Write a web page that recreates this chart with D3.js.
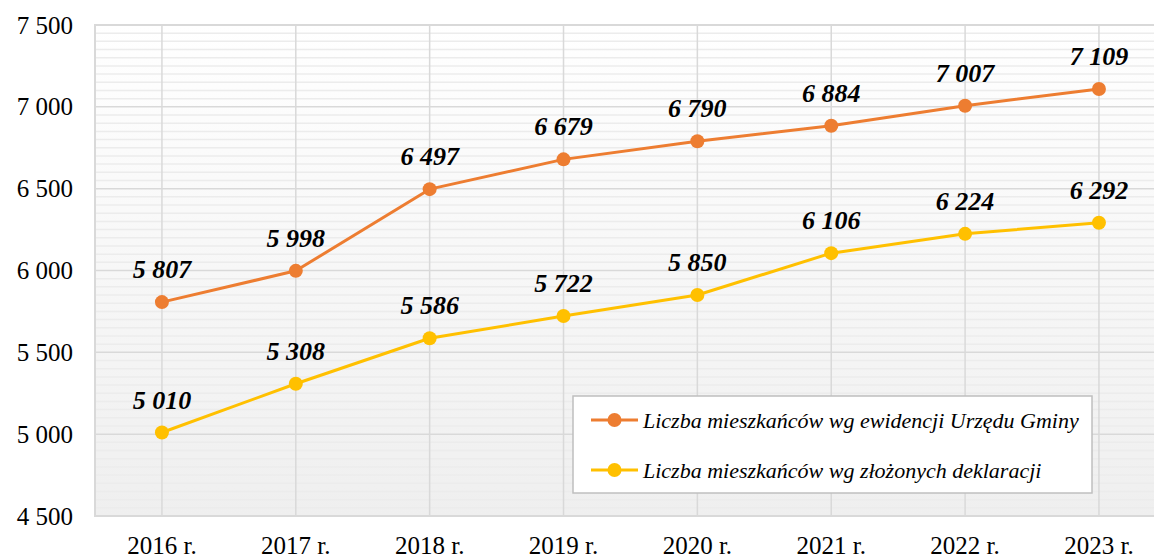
<!DOCTYPE html>
<html><head><meta charset="utf-8">
<script src="https://cdn.jsdelivr.net/npm/d3@7"></script>
<style>html,body{margin:0;padding:0;background:#fff;overflow:hidden}</style>
</head><body><svg id="c" width="1154" height="558"></svg>
<script>
const categories = ["2016 r.","2017 r.","2018 r.","2019 r.","2020 r.","2021 r.","2022 r.","2023 r."];
const seriesNames = ["Liczba mieszkańców wg ewidencji Urzędu Gminy","Liczba mieszkańców wg złożonych deklaracji"];
const ewidencja = [5807,5998,6497,6679,6790,6884,7007,7109];
const deklaracje = [5010,5308,5586,5722,5850,6106,6224,6292];
const yTicks = [4500,5000,5500,6000,6500,7000,7500];
const colors = ["#ED7D31","#FFC000"];

const svg = d3.select("#c");
const L=95, T=25, B=516, R=95+8*133.86;
const x = d3.scaleBand().domain(categories).range([L,R]);
const y = d3.scaleLinear().domain([4500,7500]).range([B,T]);
const fmt = v => d3.format(",")(v).replace(/,/g," ");
const SERIF = "Liberation Serif";

const defs = svg.append("defs");
const g = defs.append("linearGradient").attr("id","bg").attr("x1",0).attr("x2",0).attr("y1",0).attr("y2",1);
g.append("stop").attr("offset","0%").attr("stop-color","#ffffff");
g.append("stop").attr("offset","100%").attr("stop-color","#efefef");
svg.append("rect").attr("x",L).attr("y",T).attr("width",R-L).attr("height",B-T).attr("fill","url(#bg)");

// minor stripes
const minor = d3.range(4550,7500,50).filter(v=>v%500!==0);
svg.append("g").selectAll("line").data(minor).join("line")
 .attr("x1",L).attr("x2",R).attr("y1",d=>y(d)).attr("y2",d=>y(d))
 .attr("stroke","#ececec").attr("stroke-width",1.5);

// major gridlines
svg.append("g").selectAll("line").data(yTicks).join("line")
 .attr("x1",L).attr("x2",R).attr("y1",d=>y(d)).attr("y2",d=>y(d))
 .attr("stroke","#d9d9d9").attr("stroke-width",1.5);
// vertical gridlines
svg.append("g").selectAll("line").data(categories).join("line")
 .attr("x1",d=>x(d)+x.bandwidth()/2).attr("x2",d=>x(d)+x.bandwidth()/2).attr("y1",T).attr("y2",B)
 .attr("stroke","#d9d9d9").attr("stroke-width",1.5);
svg.append("rect").attr("x",L).attr("y",T).attr("width",R-L).attr("height",B-T)
 .attr("fill","none").attr("stroke","#d9d9d9").attr("stroke-width",2);

// axes
const yAxis = d3.axisLeft(y).tickValues(yTicks).tickFormat(fmt).tickSize(0).tickPadding(22);
const ya = svg.append("g").attr("transform",`translate(${L},0)`).call(yAxis);
ya.attr("font-family",SERIF).attr("font-size",25);
ya.select(".domain").remove();
ya.selectAll("text").attr("fill","#000");
const xAxis = d3.axisBottom(x).tickSize(0).tickPadding(20);
const xa = svg.append("g").attr("transform",`translate(0,${B})`).call(xAxis);
xa.attr("font-family",SERIF).attr("font-size",25);
xa.select(".domain").remove();
xa.selectAll("text").attr("fill","#000");

const cx = d => x(d)+x.bandwidth()/2;
[ewidencja, deklaracje].forEach((vals,si)=>{
  const data = categories.map((c,i)=>({c, v:vals[i]}));
  svg.append("path").datum(data)
   .attr("d", d3.line().x(d=>cx(d.c)).y(d=>y(d.v)))
   .attr("fill","none").attr("stroke",colors[si]).attr("stroke-width",3).attr("stroke-linejoin","round");
  svg.append("g").selectAll("circle").data(data).join("circle")
   .attr("cx",d=>cx(d.c)).attr("cy",d=>y(d.v)).attr("r",7).attr("fill",colors[si]);
  svg.append("g").attr("font-family",SERIF).attr("font-size",26).attr("font-weight","bold").attr("font-style","italic")
   .selectAll("text").data(data).join("text")
   .attr("x",d=>cx(d.c)).attr("y",d=>y(d.v)-24).attr("text-anchor","middle").attr("fill","#000")
   .text(d=>fmt(d.v));
});

// legend
const lg = svg.append("g");
lg.append("rect").attr("x",573).attr("y",396).attr("width",519).attr("height",97)
  .attr("fill","#fff").attr("stroke","#bfbfbf").attr("stroke-width",1.5);
seriesNames.forEach((n,i)=>{
  const yy = 420 + i*50;
  lg.append("line").attr("x1",591).attr("x2",638).attr("y1",yy).attr("y2",yy).attr("stroke",colors[i]).attr("stroke-width",3);
  lg.append("circle").attr("cx",614.5).attr("cy",yy).attr("r",7).attr("fill",colors[i]);
  lg.append("text").attr("x",643).attr("y",yy).attr("dy","0.35em")
    .attr("font-family",SERIF).attr("font-size",22).attr("font-style","italic").attr("fill","#000").text(n);
});
</script></body></html>
